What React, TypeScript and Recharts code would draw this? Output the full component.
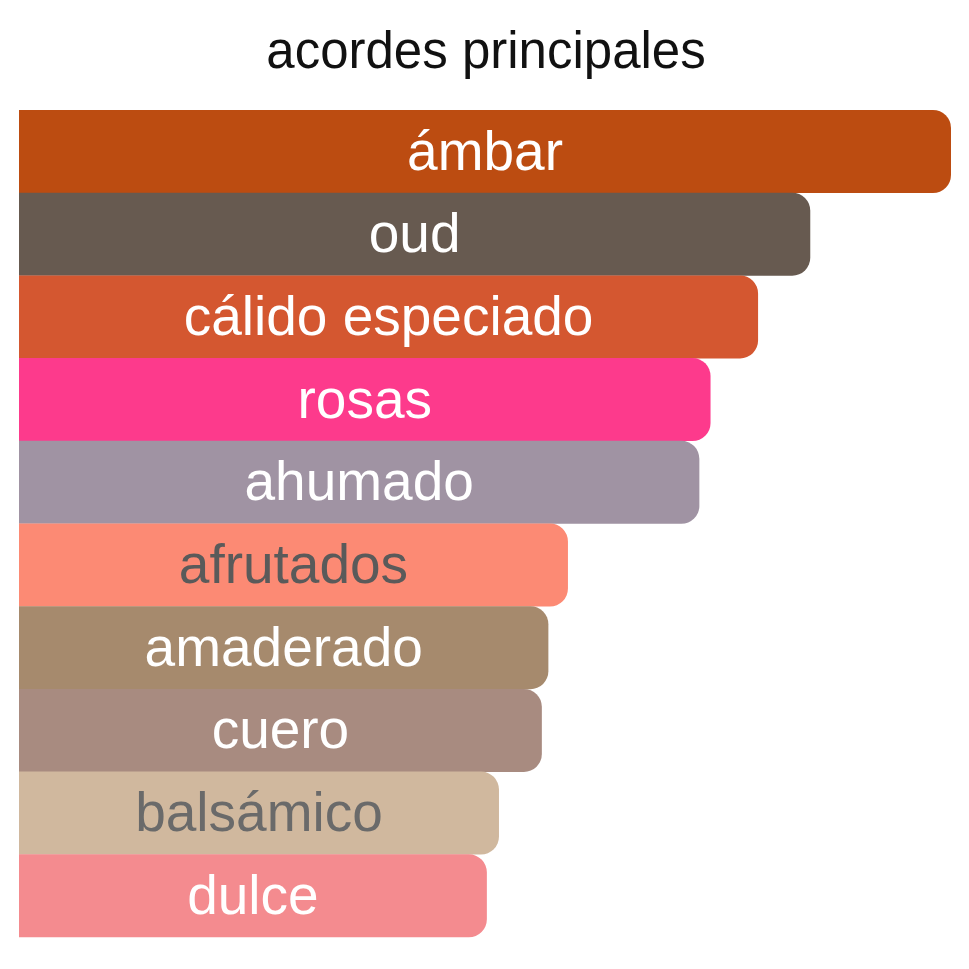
import { BarChart, Bar, XAxis, YAxis, Cell, LabelList } from "recharts"

// acordes principales (ancho relativo, ámbar = 100)
const accords = [
  "ámbar",
  "oud",
  "cálido especiado",
  "rosas",
  "ahumado",
  "afrutados",
  "amaderado",
  "cuero",
  "balsámico",
  "dulce",
]
const strengths = [100, 84.9, 79.3, 74.2, 73, 58.9, 56.8, 56.1, 51.5, 50.2]
const barColors = [
  "#bc4c11",
  "#675a50",
  "#d45730",
  "#fd3a8c",
  "#a093a3",
  "#fc8a74",
  "#a68a6d",
  "#a88b80",
  "#d0b89e",
  "#f48b8f",
]
const textColors = [
  "#ffffff",
  "#ffffff",
  "#ffffff",
  "#ffffff",
  "#ffffff",
  "#5a5a5a",
  "#ffffff",
  "#ffffff",
  "#6a6a6a",
  "#ffffff",
]

const data = accords.map((name, i) => ({ name, value: strengths[i] }))

const FONT = "'Liberation Sans', Arial, Helvetica, sans-serif"

function BarLabel(props: any) {
  const { x, y, width, height, value, index } = props
  const cx = Number(x) + Number(width) / 2
  const cy = Number(y) + Number(height) / 2
  return (
    <text
      x={cx}
      y={cy + 18}
      textAnchor="middle"
      fill={textColors[index]}
      fontSize={55}
      fontFamily={FONT}
    >
      {value}
    </text>
  )
}

export default function App() {
  return (
    <div
      style={{
        position: "absolute",
        left: 0,
        top: 0,
        width: 969,
        height: 969,
        background: "#ffffff",
      }}
    >
      <div
        style={{
          position: "absolute",
          left: 0,
          top: 22,
          width: 972,
          textAlign: "center",
          fontFamily: FONT,
          fontSize: 51,
          color: "#111111",
          lineHeight: "58px",
        }}
      >
        acordes principales
      </div>
      <BarChart
        width={969}
        height={969}
        data={data}
        layout="vertical"
        margin={{ top: 110, right: 18, left: 19, bottom: 32 }}
        barCategoryGap={0}
        style={{ position: "absolute", left: 0, top: 0 }}
      >
        <XAxis type="number" domain={[0, 100]} hide />
        <YAxis type="category" dataKey="name" hide />
        <Bar dataKey="value" radius={[0, 18, 18, 0]} isAnimationActive={false}>
          {data.map((d, i) => (
            <Cell key={d.name} fill={barColors[i]} />
          ))}
          <LabelList dataKey="name" content={<BarLabel />} />
        </Bar>
      </BarChart>
    </div>
  )
}
